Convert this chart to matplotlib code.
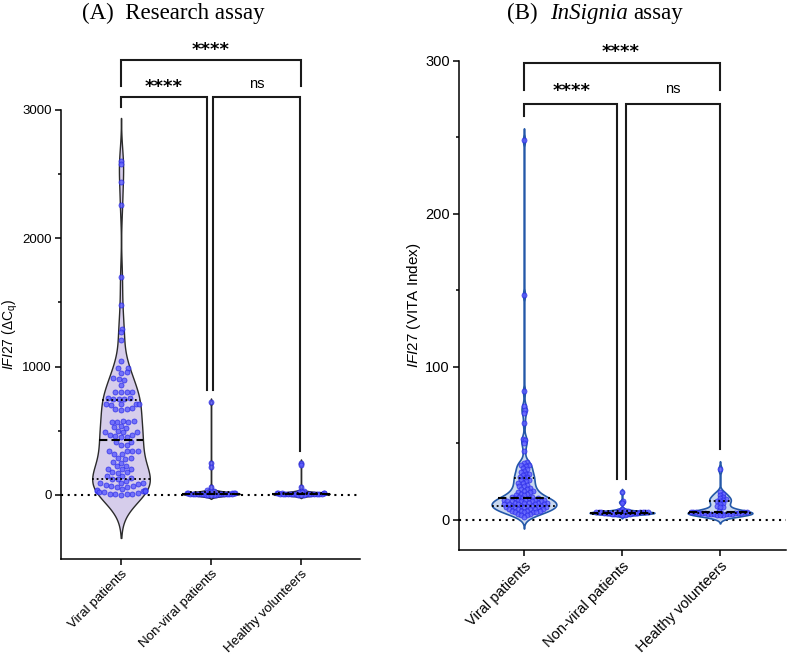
import numpy as np
import matplotlib
matplotlib.use("Agg")
import matplotlib.pyplot as plt
from matplotlib.offsetbox import TextArea, HPacker, AnnotationBbox

plt.rcParams['font.family'] = ['Liberation Sans', 'DejaVu Sans']
plt.rcParams['mathtext.fontset'] = 'custom'
plt.rcParams['mathtext.rm'] = 'Liberation Sans'
plt.rcParams['mathtext.it'] = 'Liberation Sans:italic'

# ---------------- data ----------------
categories = ["Viral patients", "Non-viral patients", "Healthy volunteers"]

a_viral = [2600, 2580, 2440, 2260, 1700, 1480, 1290, 1270, 1210, 1040,
           985, 990, 950, 955, 910, 905, 895, 860, 805, 800,
           805, 800, 755, 750, 745, 750, 755, 710, 705, 710,
           700, 705, 670, 665, 675, 670, 570, 575, 565, 570,
           575, 530, 535, 525, 490, 495, 488, 492, 468, 465,
           452, 448, 455, 415, 410, 390, 392, 340, 345, 338,
           342, 318, 315, 285, 288, 282, 252, 255, 228, 224,
           200, 202, 198, 175, 172, 176, 150, 146, 126, 124,
           128, 110, 92, 90, 94, 88, 80, 66, 64, 67,
           60, 45, 32, 28, 35, 30, 25, 38, 22, 33,
           18, 8, 5, 3, 10, 2]
a_nonviral = [720, 250, 218, 65, 34, 28, 22, 20, 18, 15, 15, 12, 12, 10, 10,
              8, 8, 6, 6, 5, 5, 4, 4, 3, 3, 2, 2, 1, 1, 0]
a_healthy = [250, 235, 65, 30, 25, 20, 18, 15, 14, 12, 12, 10, 10, 9, 8,
             8, 7, 6, 6, 5, 5, 4, 4, 3, 3, 2, 2, 1]

b_viral = [248, 147, 84, 74, 72, 70, 63, 53, 52, 50,
           45, 38, 37, 36, 36, 35, 34, 33, 32, 31,
           30, 30, 29, 28, 28, 27, 26, 26, 25, 24,
           24, 23, 22, 22, 21, 20, 20, 19, 19, 18,
           18, 17, 17, 16, 16, 15, 15, 15, 14, 14,
           14, 14, 13, 13, 13, 13, 13, 12, 12, 12,
           12, 12, 11, 11, 11, 11, 11, 10, 10, 10,
           10, 10, 9, 9, 9, 9, 9, 8, 8, 8,
           8, 8, 7, 7, 7, 7, 7, 6, 6, 6,
           6, 5, 5, 5, 5, 4, 4, 3, 3, 2]
b_nonviral = [18, 12, 11, 7, 6, 6, 5.5, 5.5, 5, 5, 5, 5, 5, 4.8, 4.8,
              4.6, 4.5, 4.5, 4.4, 4.3, 4.2, 4.2, 4, 4, 3.9, 3.8, 3.6, 3.5, 3.3, 3]
b_healthy = [33, 18, 17, 16, 15, 14, 13.5, 13, 12.5, 12, 11, 10, 9, 8.5, 8,
             6, 5, 5, 5, 4.8, 4.8, 4.6, 4.5, 4.5, 4.4, 4.3, 4.2, 4.2, 4, 4,
             3.9, 3.8, 3.6, 3.5, 3.3, 3, 2.8]

a_yticks = [0, 1000, 2000, 3000]
a_yminor = [500, 1500, 2500]
b_yticks = [0, 100, 200, 300]
b_yminor = [50, 150, 250]
sig_labels = ["****", "****", "ns"]

# ---------------- figure ----------------
W, H = 788, 657
fig = plt.figure(figsize=(W / 100, H / 100), dpi=100)


def frac(l, r, t, b):
    return [l / W, 1 - b / H, (r - l) / W, (b - t) / H]


axA = fig.add_axes(frac(61, 360, 110, 559))
axB = fig.add_axes(frac(459, 786, 60.7, 550.3))
axA.set_xlim(-0.667, 2.656)
axA.set_ylim(-500, 3000)
axB.set_xlim(-0.663, 2.673)
axB.set_ylim(-20, 300)


def kde(vals, grid, bw):
    v = np.asarray(vals, float)
    return np.exp(-0.5 * ((grid[:, None] - v[None, :]) / bw) ** 2).sum(1)


def swarm(ax, xc, vals, D):
    vals = np.asarray(vals, float)
    pts = ax.transData.transform(np.column_stack([np.full(len(vals), xc), vals]))
    ypx = pts[:, 1]
    placed = []
    xs = np.zeros(len(vals))
    for i in np.argsort(vals, kind="stable"):
        y = ypx[i]
        cands = [0.0]
        for px, py in placed:
            dy = abs(py - y)
            if dy < D:
                dx = np.sqrt(D * D - dy * dy)
                cands += [px + dx, px - dx]
        cands = sorted(cands, key=lambda c: (round(abs(c), 6), -c))
        chosen = cands[-1]
        for c in cands:
            if all((c - px) ** 2 + (y - py) ** 2 >= D * D - 1e-6 for px, py in placed):
                chosen = c
                break
        placed.append((chosen, y))
        xs[i] = chosen
    return xs  # pixel offsets


def violin(ax, xc, vals, bw, half, face, edge, D, elw, cut=2.6):
    vals = np.asarray(vals, float)
    grid = np.linspace(vals.min() - cut * bw, vals.max() + cut * bw, 2000)
    d = kde(vals, grid, bw)
    w = d / d.max() * half
    ax.fill_betweenx(grid, xc - w, xc + w, facecolor=face, edgecolor=edge,
                     linewidth=elw, zorder=2)
    offs_px = swarm(ax, xc, vals, D)
    p0 = ax.transData.transform([[0, 0], [1, 0]])
    pxu = p0[1, 0] - p0[0, 0]
    wv = np.interp(vals, grid, w) * pxu
    lim = np.maximum(wv - 1.5, 0)
    offs_px = np.clip(offs_px, -lim, lim)
    xs = xc + offs_px / pxu
    ax.scatter(xs, vals, s=13, facecolor="#5c5cff", edgecolor="#2a2ae6",
               linewidth=0.6, alpha=0.8, zorder=3)
    q1, med, q3 = np.percentile(vals, [25, 50, 75])
    for q, ls, lw in [(med, (0, (4, 2)), 1.5), (q1, (0, (1, 1.6)), 1.3), (q3, (0, (1, 1.6)), 1.3)]:
        wq = np.interp(q, grid, w)
        ax.plot([xc - wq, xc + wq], [q, q], color="black", linestyle=ls, lw=lw,
                zorder=4, solid_capstyle="butt")


def style_axis(ax, majors, minors, tsize, xsize, ylabel, lsize):
    for s in ["top", "right"]:
        ax.spines[s].set_visible(False)
    for s in ["left", "bottom"]:
        ax.spines[s].set_linewidth(1.1)
    ax.set_yticks(majors)
    ax.set_yticks(minors, minor=True)
    ax.set_xticks(range(len(categories)))
    ax.set_xticklabels(categories, rotation=45, ha="right", va="top",
                       rotation_mode="anchor", fontsize=xsize)
    ax.tick_params(axis="both", which="major", length=4.5, width=1.1,
                   labelsize=tsize, pad=2)
    ax.tick_params(axis="x", which="major", labelsize=xsize, pad=2)
    ax.tick_params(axis="y", which="minor", length=2.5, width=1.1)
    ax.set_ylabel(ylabel, fontsize=lsize, labelpad=2)
    ax.axhline(0, color="black", linestyle=(0, (1, 2.2)), lw=1.5, zorder=1)


style_axis(axA, a_yticks, a_yminor, 9.5, 9.6, r"$\mathit{IFI27}$ (ΔC$_\mathregular{q}$)", 10)
style_axis(axB, b_yticks, b_yminor, 10.5, 10.5, r"$\mathit{IFI27}$ (VITA Index)", 11)

A_face, A_edge = "#d6cdeb", "#2b2b2b"
B_face, B_edge = "#c9d8ef", "#2458a8"
for xc, vals, bw, D in zip(range(3), [a_viral, a_nonviral, a_healthy], [130, 12, 10], [5.6, 2.6, 2.6]):
    violin(axA, xc, vals, bw, 0.32, A_face, A_edge, D, 1.0)
for xc, vals, bw, D in zip(range(3), [b_viral, b_nonviral, b_healthy], [3.0, 0.8, 2.0], [3.4, 2.6, 3.0]):
    violin(axB, xc, vals, bw, 0.33, B_face, B_edge, D, 1.2)


def bracket(ax, x1, x2, ytop, y1, y2):
    ax.plot([x1, x1, x2, x2], [y1, ytop, ytop, y2], color="#1a1a1a", lw=1.5,
            clip_on=False, zorder=5, solid_joinstyle="miter")


def star(ax, x, y, txt):
    if txt == "ns":
        ax.text(x, y, txt, ha="center", va="center", fontsize=10.5, clip_on=False)
    else:
        ax.text(x, y, txt, ha="center", va="center", fontsize=13, fontweight="bold",
                family="DejaVu Sans", clip_on=False)


# Panel A brackets
bracket(axA, 0, 2, 3390, 3188, 3188)
bracket(axA, 0, 0.955, 3102, 3024, 818)
bracket(axA, 1.022, 1.99, 3102, 818, 345)
star(axA, 1.0, 3470, sig_labels[0])
star(axA, 0.47, 3180, sig_labels[1])
star(axA, 1.51, 3203, sig_labels[2])

# Panel B brackets
bracket(axB, 0, 2, 298.8, 281, 281)
bracket(axB, 0, 0.946, 272, 264, 26.5)
bracket(axB, 1.038, 2, 272, 26.5, 45.9)
star(axB, 0.99, 306, sig_labels[0])
star(axB, 0.49, 280, sig_labels[1])
star(axB, 1.52, 281.6, sig_labels[2])

# Titles
serif = dict(family="Liberation Serif", size=16.5)
fig.text(173 / W, 1 - 13 / H, "(A)  Research assay", ha="center", va="center", **serif)
tb = HPacker(children=[TextArea("(B)", textprops=serif),
                       HPacker(children=[TextArea("InSignia", textprops=dict(style="italic", **serif)),
                                         TextArea("assay", textprops=serif)],
                               pad=0, sep=4.0, align="baseline")],
             pad=0, sep=9, align="baseline")
ab = AnnotationBbox(tb, (595 / W, 1 - 13 / H), xycoords="figure fraction",
                    frameon=False, box_alignment=(0.5, 0.5))
fig.add_artist(ab)

fig.savefig("out.png", dpi=100)
